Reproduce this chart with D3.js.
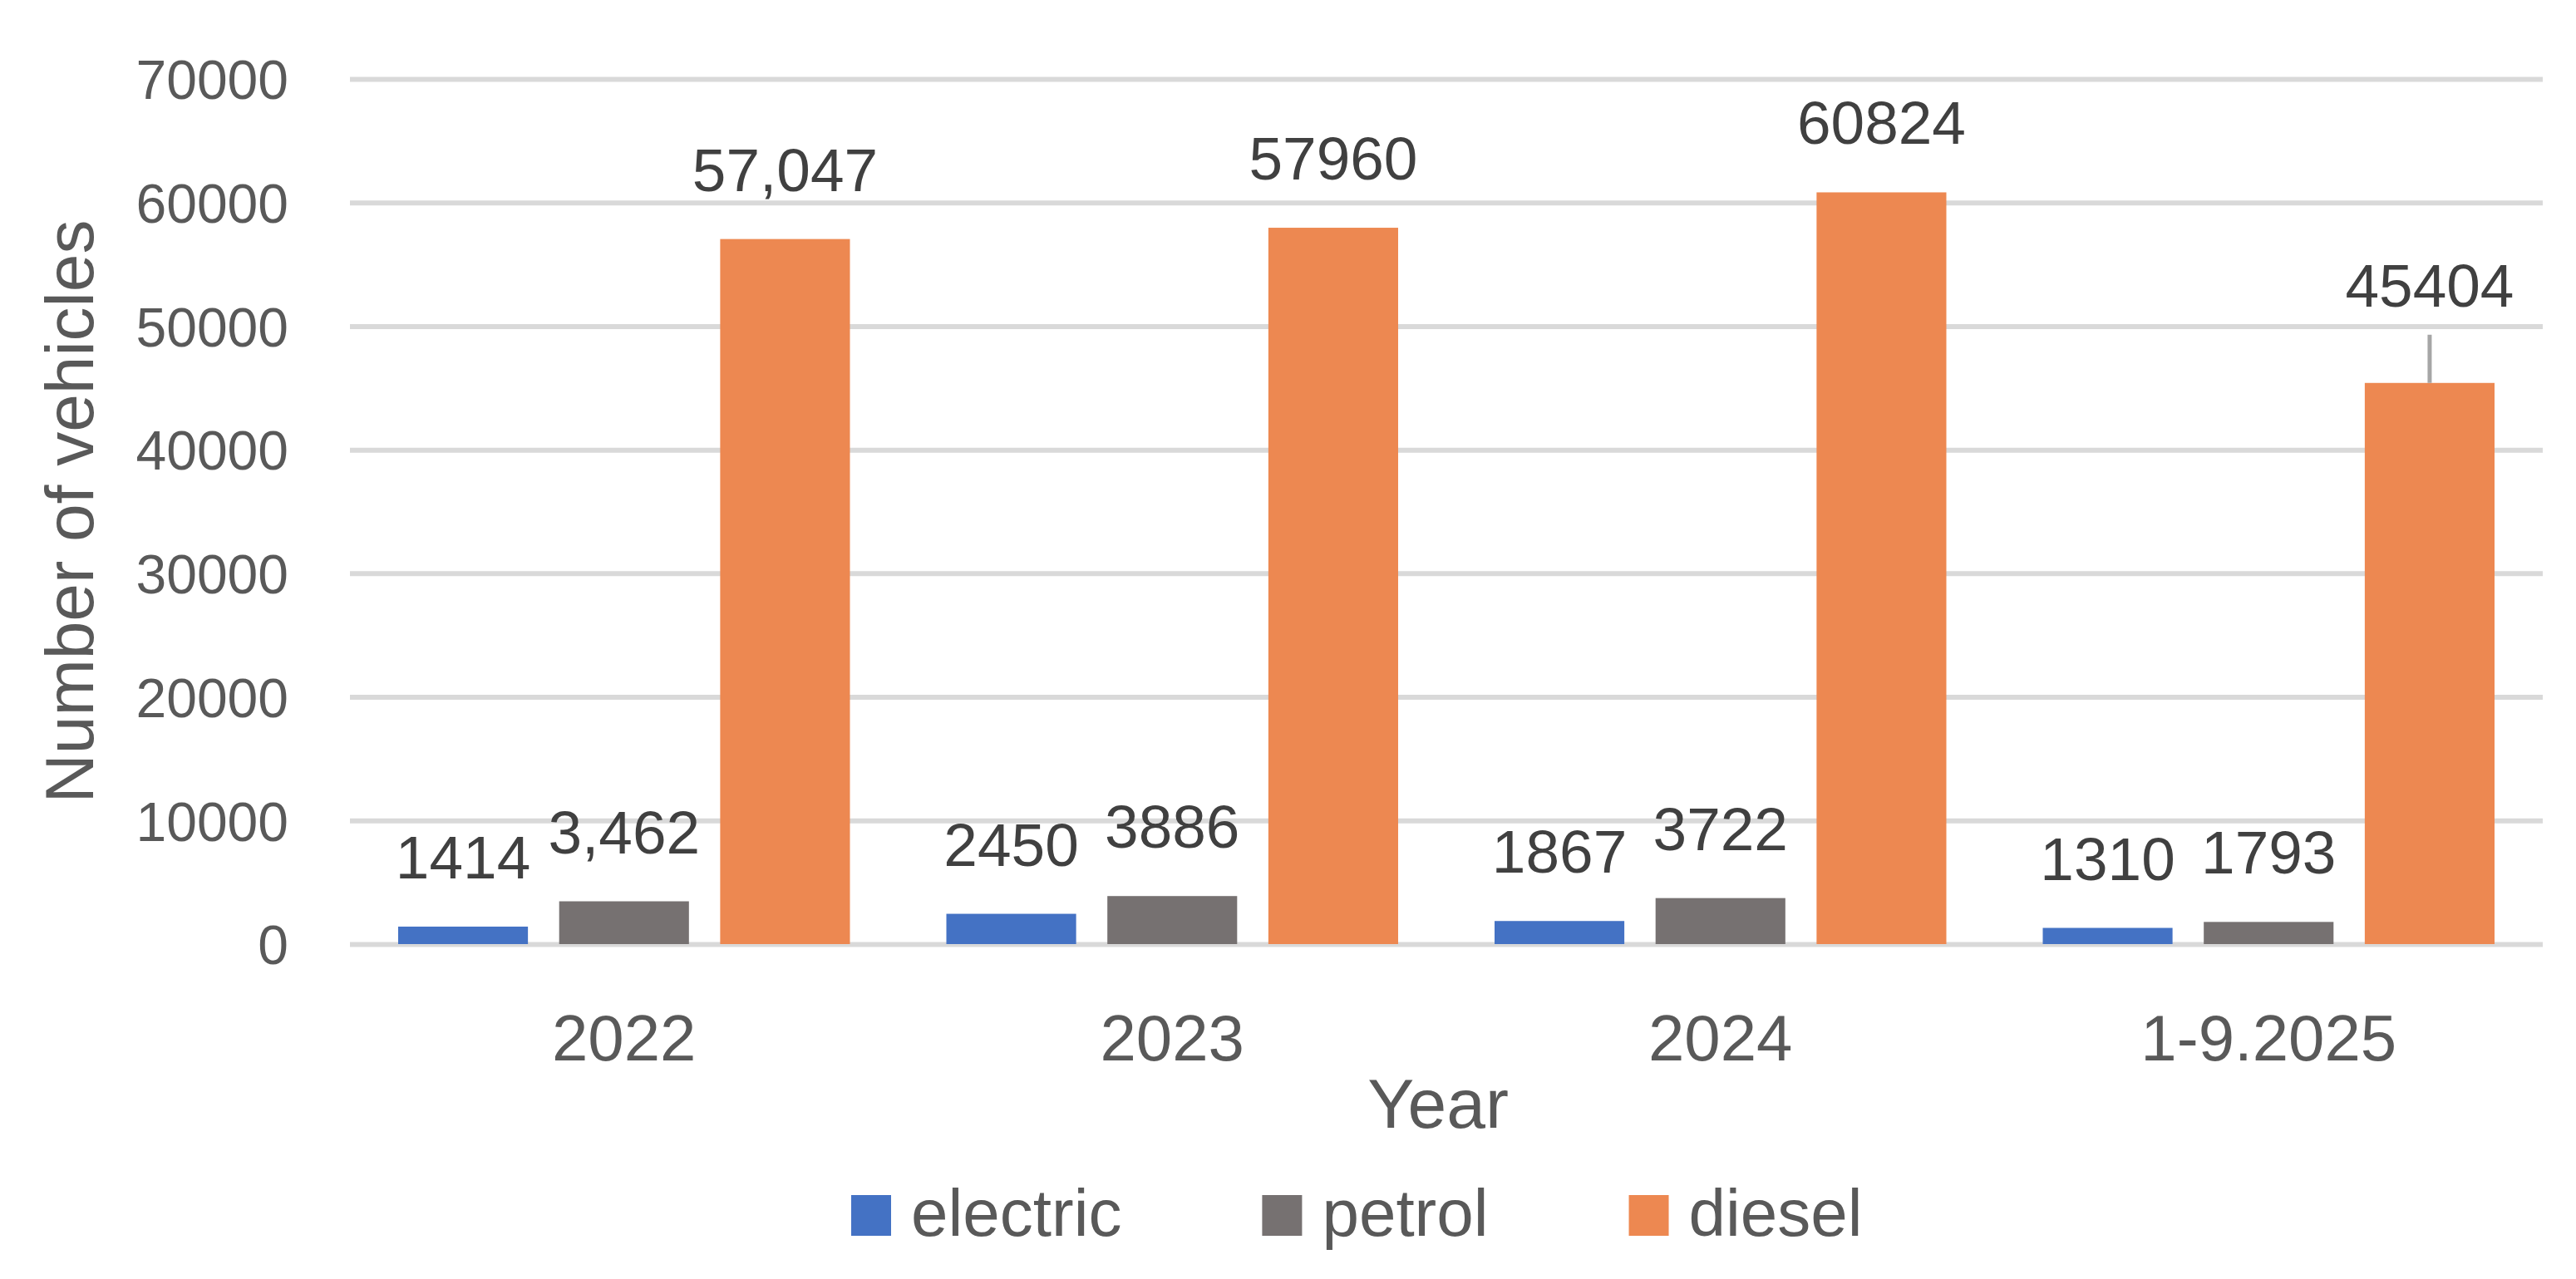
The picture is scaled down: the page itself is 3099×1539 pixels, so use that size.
<!DOCTYPE html>
<html>
<head>
<meta charset="utf-8">
<script src="https://cdn.jsdelivr.net/npm/d3@7"></script>
<style>
  body { margin: 0; background: #fff; }
  text { font-family: "Liberation Sans", Arial, sans-serif; }
</style>
</head>
<body>
<div class="canvas"></div>
<script>
// data
const categories = ['2022', '2023', '2024', '1-9.2025']
const seriesNames = ['electric', 'petrol', 'diesel']
const electric = [1414, 2450, 1867, 1310]
const petrol = [3462, 3886, 3722, 1793]
const diesel = [57047, 57960, 60824, 45404]
const electricLabels = ['1414', '2450', '1867', '1310']
const petrolLabels = ['3,462', '3886', '3722', '1793']
const dieselLabels = ['57,047', '57960', '60824', '45404']
const yTicks = [0, 10000, 20000, 30000, 40000, 50000, 60000, 70000]

const colors = {electric: '#4472C4', petrol: '#767171', diesel: '#ED8851'}
const values = {electric, petrol, diesel}
const labels = {electric: electricLabels, petrol: petrolLabels, diesel: dieselLabels}

const width = 3099
const height = 1539
const plot = {left: 421, right: 3059, top: 95, bottom: 1136}

const svg = d3.select('.canvas')
    .append('svg')
    .attr('width', width)
    .attr('height', height)

const y = d3.scaleLinear()
    .domain([0, 70000])
    .range([plot.bottom, plot.top])

const x0 = d3.scaleBand()
    .domain(categories)
    .range([plot.left, plot.right])

const x1 = d3.scaleBand()
    .domain(seriesNames)
    .range([58, x0.bandwidth() - 58])
    .paddingInner(0.194)

// gridlines + y labels
const yAxisGroup = svg.append('g')
    .attr('transform', `translate(${plot.left}, 0)`)
    .call(d3.axisLeft(y)
        .tickValues(yTicks)
        .tickSize(-(plot.right - plot.left))
        .tickPadding(74)
        .tickFormat(d => d))
yAxisGroup.select('.domain').remove()
yAxisGroup.selectAll('line')
    .attr('stroke', '#d9d9d9')
    .attr('stroke-width', 6)
yAxisGroup.selectAll('text')
    .attr('font-size', 66)
    .attr('fill', '#595959')
    .attr('dy', '0.36em')

// x labels
const xAxisGroup = svg.append('g')
    .attr('transform', `translate(0, ${plot.bottom})`)
    .call(d3.axisBottom(x0).tickSize(0))
xAxisGroup.select('.domain').remove()
xAxisGroup.selectAll('text')
    .attr('font-size', 78)
    .attr('fill', '#595959')
    .attr('dy', null)
    .attr('y', 140)

// bars
const groups = svg.selectAll('.group')
    .data(categories)
    .enter()
    .append('g')
    .attr('class', 'group')
    .attr('transform', d => `translate(${x0(d)}, 0)`)

groups.selectAll('rect')
    .data((d, i) => seriesNames.map(s => ({s, v: values[s][i], label: labels[s][i], i})))
    .enter()
    .append('rect')
    .attr('x', d => x1(d.s))
    .attr('y', d => y(d.v))
    .attr('width', x1.bandwidth())
    .attr('height', d => plot.bottom - y(d.v))
    .attr('fill', d => colors[d.s])

// data labels; the last diesel label was dragged up in the original, with a leader line
const lifted = (d) => d.s === 'diesel' && d.i === 3
groups.selectAll('.lbl')
    .data((d, i) => seriesNames.map(s => ({s, v: values[s][i], label: labels[s][i], i})))
    .enter()
    .append('text')
    .attr('class', 'lbl')
    .attr('x', d => x1(d.s) + x1.bandwidth() / 2)
    .attr('y', d => y(d.v) - (lifted(d) ? 92 : 58))
    .attr('text-anchor', 'middle')
    .attr('font-size', 73)
    .attr('fill', '#404040')
    .text(d => d.label)

groups.filter((d, i) => i === 3)
    .append('line')
    .attr('x1', x1('diesel') + x1.bandwidth() / 2)
    .attr('x2', x1('diesel') + x1.bandwidth() / 2)
    .attr('y1', y(diesel[3]) - 58)
    .attr('y2', y(diesel[3]))
    .attr('stroke', '#a6a6a6')
    .attr('stroke-width', 5)

// axis titles
svg.append('text')
    .attr('transform', `translate(112, ${(plot.top + plot.bottom) / 2}) rotate(-90)`)
    .attr('text-anchor', 'middle')
    .attr('font-size', 82)
    .attr('fill', '#595959')
    .text('Number of vehicles')

svg.append('text')
    .attr('x', 1730)
    .attr('y', 1357)
    .attr('text-anchor', 'middle')
    .attr('font-size', 84)
    .attr('fill', '#595959')
    .text('Year')

// legend
const legend = svg.append('g')
let lx = 1024
seriesNames.forEach(s => {
    const item = legend.append('g').attr('transform', `translate(${lx}, 0)`)
    item.append('rect')
        .attr('x', 0)
        .attr('y', 1438)
        .attr('width', 48)
        .attr('height', 49)
        .attr('fill', colors[s])
    const t = item.append('text')
        .attr('x', 72)
        .attr('y', 1487)
        .attr('font-size', 80)
        .attr('fill', '#595959')
        .text(s)
    lx += 72 + t.node().getComputedTextLength() + 169
})
</script>
</body>
</html>
